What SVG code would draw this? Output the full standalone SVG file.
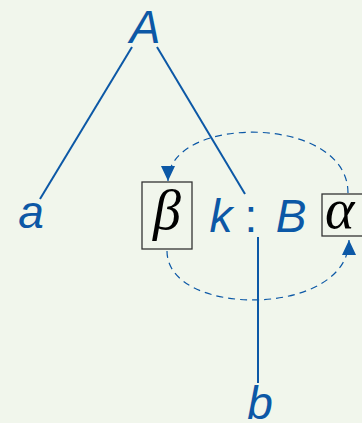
<svg xmlns="http://www.w3.org/2000/svg" width="362" height="423" viewBox="0 0 362 423">
<defs>
<style>
.lbl{font-family:"Liberation Sans",Arial,sans-serif;font-style:italic;font-size:46px;fill:#0c58a6}
.math{font-family:"Liberation Serif","DejaVu Serif",serif;font-style:italic;font-size:56px;fill:#000}
.edge{stroke:#0c58a6;stroke-width:2;fill:none}
.dash{stroke:#0c58a6;stroke-width:1.2;fill:none;stroke-dasharray:7 5}
.box{fill:none;stroke:#333;stroke-width:1.3}
</style>
<marker id="ah" markerWidth="16" markerHeight="14" refX="15" refY="7" orient="auto" markerUnits="userSpaceOnUse">
<path d="M0,0 L15,7 L0,14 Z" fill="#0c58a6"/>
</marker>
</defs>
<rect width="362" height="423" fill="#f1f6ec"/>
<g id="connectors">
<line class="edge" x1="132" y1="47" x2="40" y2="199"/>
<line class="edge" x1="157" y1="47" x2="245" y2="194"/>
<line class="edge" x1="258" y1="237" x2="258" y2="383"/>
<path class="dash" d="M348,193 C348,114 168,114 168,181" marker-end="url(#ah)"/>
<path class="dash" d="M167,251 C167,318 349,318 349,240" marker-end="url(#ah)"/>
</g>
<g id="node-A"><text class="lbl" x="145" y="43" text-anchor="middle">A</text></g>
<g id="node-a"><text class="lbl" x="31" y="228" text-anchor="middle">a</text></g>
<g id="node-kB">
<text class="lbl" x="221" y="232" text-anchor="middle">k</text>
<text class="lbl" x="251" y="232" text-anchor="middle" style="font-style:normal">:</text>
<text class="lbl" x="291" y="232" text-anchor="middle">B</text>
</g>
<g id="node-beta">
<rect class="box" x="142" y="182" width="50" height="67"/>
<text class="math" x="167" y="229" text-anchor="middle">β</text>
</g>
<g id="node-alpha">
<rect class="box" x="322" y="194" width="60" height="42"/>
<text class="math" x="325" y="228">α</text>
</g>
<g id="node-b"><text class="lbl" x="260" y="419" text-anchor="middle">b</text></g>
</svg>
